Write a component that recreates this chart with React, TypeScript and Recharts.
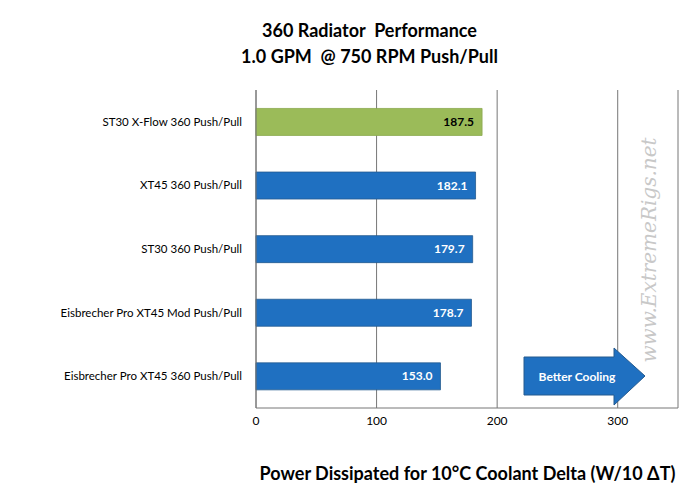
import { Bar, BarChart, CartesianGrid, Cell, LabelList, XAxis, YAxis } from "recharts";

const radiators = [
  "ST30 X-Flow 360 Push/Pull",
  "XT45 360 Push/Pull",
  "ST30 360 Push/Pull",
  "Eisbrecher Pro XT45 Mod Push/Pull",
  "Eisbrecher Pro XT45 360 Push/Pull",
];
const watts = [187.5, 182.1, 179.7, 178.7, 153.0];
const xTicks = [0, 100, 200, 300];

const GREEN = "#9BBB59";
const BLUE = "#1F70C1";
const FONT = "Lato, 'Open Sans', sans-serif";

const data = radiators.map((name, i) => ({ name, watts: watts[i] }));

export default function App() {
  return (
    <div style={{ position: "absolute", left: 0, top: 0, width: 699, height: 491, background: "#fff", fontFamily: FONT }}>
      <div style={{ position: "absolute", top: 17, left: 20, width: 699, textAlign: "center", fontWeight: 700, fontSize: 18, lineHeight: "26px", color: "#000" }}>
        360 Radiator&nbsp; Performance
        <br />
        1.0 GPM&nbsp; @ 750 RPM Push/Pull
      </div>
      <BarChart
        width={699}
        height={491}
        data={data}
        layout="vertical"
        margin={{ top: 90, right: 21, bottom: 53, left: 0 }}
        barCategoryGap="29%"
      >
        <CartesianGrid horizontal={false} stroke="#777" />
        <XAxis
          type="number"
          domain={[0, 350]}
          ticks={xTicks}
          tick={{ fontSize: 12, fill: "#000", fontFamily: FONT }}
          tickLine={false}
          axisLine={{ stroke: "#777" }}
          height={30}
        />
        <YAxis
          type="category"
          dataKey="name"
          width={256}
          tick={{ fontSize: 11.5, fill: "#000", fontFamily: FONT }}
          tickLine={false}
          axisLine={{ stroke: "#777" }}
          tickMargin={8}
        />
        <Bar dataKey="watts" isAnimationActive={false} strokeWidth={0.8}>
          {data.map((d, i) => (
            <Cell key={d.name} fill={i === 0 ? GREEN : BLUE} stroke={i === 0 ? "#8aa84e" : "#245a8f"} />
          ))}
          <LabelList
            dataKey="watts"
            content={(p: any) => (
              <text
                x={p.x + p.width - 8}
                y={p.y + p.height / 2 + 4}
                textAnchor="end"
                fontSize={12}
                fontWeight={700}
                fontFamily={FONT}
                fill={p.index === 0 ? "#000" : "#fff"}
              >
                {Number(p.value).toFixed(1)}
              </text>
            )}
          />
        </Bar>
      </BarChart>
      <svg style={{ position: "absolute", left: 0, top: 0 }} width={699} height={491}>
        <polygon points="524,357 614,357 614,348 645,376 614,405 614,395 524,395" fill={BLUE} stroke="#245a8f" />
        <text x={577} y={381} textAnchor="middle" fontSize={12} fontWeight={700} fill="#fff" fontFamily={FONT}>
          Better Cooling
        </text>
        <text
          x={656}
          y={250}
          transform="rotate(-90 656 250)"
          textAnchor="middle"
          fontSize={20}
          fontStyle="italic"
          fontFamily="'DejaVu Serif', serif"
          fill="#c8c8c8"
        >
          www.ExtremeRigs.net
        </text>
      </svg>
      <div style={{ position: "absolute", top: 462, left: 118, width: 699, textAlign: "center", fontWeight: 700, fontSize: 18, color: "#000" }}>
        Power Dissipated for 10°C Coolant Delta (W/10 ΔT)
      </div>
    </div>
  );
}
